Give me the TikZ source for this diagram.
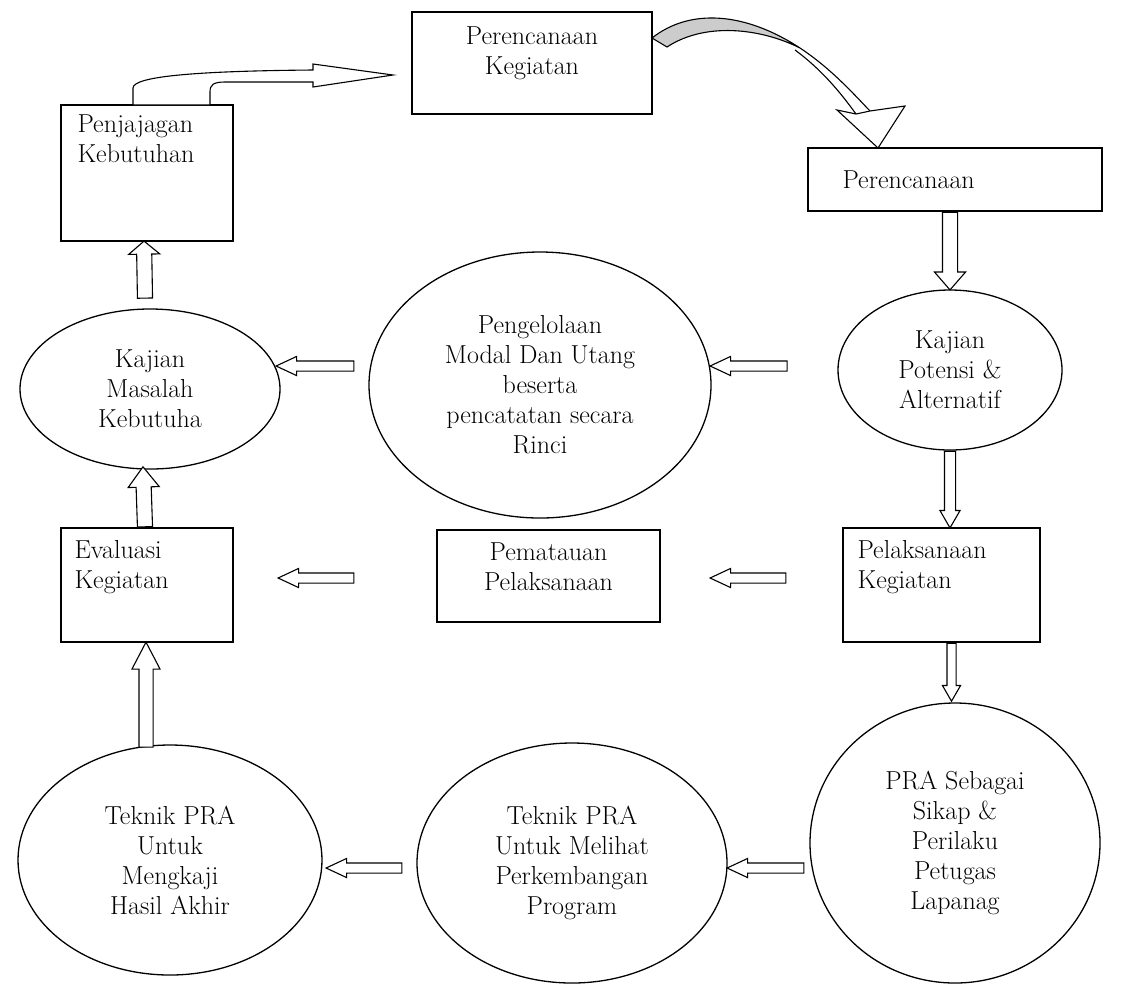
\documentclass[tikz,border=0pt]{standalone}
\usetikzlibrary{calc, positioning, shapes.geometric, shapes.arrows}

% hollow block arrow between two points
\newcommand\fatarrow[3][]{%
  \path let \p1=(#2), \p2=(#3),
    \n1={veclen(\x2-\x1,\y2-\y1)}, \n2={atan2(\y2-\y1,\x2-\x1)} in
    node[fat, minimum height=\n1, rotate=\n2, anchor=tail, #1] at (\p1) {};%
}

\begin{document}
\begin{tikzpicture}[
    x=1pt, y=-1pt,
    every node/.style={font=\fontsize{26}{30}\selectfont},
    box/.style={rectangle, draw, line width=1.3pt},
    oval/.style={ellipse, draw, line width=1.3pt, align=center, inner sep=0pt},
    txt/.style={inner sep=0pt},
    fat/.style={single arrow, draw, fill=white, line width=1.1pt, inner xsep=0pt, inner ysep=7pt,
        single arrow head extend=8pt, single arrow tip angle=75, single arrow head indent=0pt},
    fath/.style={inner ysep=4.5pt, single arrow head extend=4.5pt, single arrow tip angle=50},
    fatn/.style={inner ysep=4.5pt, single arrow head extend=4.5pt, single arrow tip angle=60}
]
    \useasboundingbox (0,0) rectangle (1123,997);

    % Boxes
    \node[box, minimum width=240pt, minimum height=102pt] (pkeg) at (532,63) {};
    \node[txt, align=center, below=15pt of pkeg.north] (pkegtxt) {Perencanaan\\Kegiatan};

    \node[box, minimum width=172pt, minimum height=136pt] (pj) at (147,173) {};
    \node[txt, align=left, below right=10pt and 17pt of pj.north west] (pjtxt) {Penjajagan\\Kebutuhan};

    \node[box, minimum width=294pt, minimum height=63pt] (pren) at (955,179.5) {};
    \node[txt, right=35pt of pren.west] (prentxt) {Perencanaan};

    \node[box, minimum width=172pt, minimum height=114pt] (ev) at (147,585) {};
    \node[txt, align=left, below right=13pt and 14pt of ev.north west] (evtxt) {Evaluasi\\Kegiatan};

    \node[box, minimum width=223pt, minimum height=92pt] (pem) at (548.5,576) {};
    \node[txt, align=center, below=13pt of pem.north] (pemtxt) {Pematauan\\Pelaksanaan};

    \node[box, minimum width=197pt, minimum height=114pt] (pel) at (941.5,585) {};
    \node[txt, align=left, below right=13pt and 15pt of pel.north west] (peltxt) {Pelaksanaan\\Kegiatan};

    % Ellipses
    \node[oval, minimum width=260pt, minimum height=160pt] (kmas) at (150,389) {Kajian\\Masalah\\Kebutuha};
    \node[oval, minimum width=342pt, minimum height=266pt] (peng) at (540,385) {Pengelolaan\\Modal Dan Utang\\beserta\\pencatatan secara\\Rinci};
    \node[oval, minimum width=224pt, minimum height=160pt] (kpot) at (950,370) {Kajian\\Potensi \&\\Alternatif};
    \node[oval, minimum width=290pt, minimum height=280pt] (pra) at (955,843) {PRA Sebagai\\Sikap \&\\Perilaku\\Petugas\\Lapanag};
    \node[oval, minimum width=310pt, minimum height=240pt] (tmid) at (572,863) {Teknik PRA\\Untuk Melihat\\Perkembangan\\Program};
    \node[oval, minimum width=304pt, minimum height=230pt] (tleft) at (170,860) {Teknik PRA\\Untuk\\Mengkaji\\Hasil Akhir};

    % Vertical block arrows
    \fatarrow[single arrow tip angle=100]{$(pj.south)+(-2,57)$}{$(pj.south)+(-3,0)$}
    \fatarrow{$(ev.north)+(-2,0)$}{$(ev.north)+(-4,-60)$}
    \fatarrow[inner ysep=6.5pt, single arrow head extend=7pt, single arrow tip angle=55]{$(ev.south)+(-1,105)$}{$(ev.south)+(-1,0)$}
    \fatarrow[single arrow tip angle=82]{kpot.north |- pren.south}{kpot.north}
    \fatarrow[fatn, inner ysep=5pt]{kpot.south}{kpot.south |- pel.north}
    \fatarrow[fatn, inner ysep=4pt]{$(pel.south)+(10,0)$}{$(pel.south)+(10,58)$}

    % Horizontal block arrows
    \fatarrow[fath]{$(peng.west)+(-14,-19)$}{$(kmas.east)+(-4,-23)$}
    \fatarrow[fath]{$(peng.east)+(76,-19)$}{$(peng.east)+(-1,-19)$}
    \fatarrow[fath]{$(pem.west)+(-82,2)$}{$(ev.east)+(45,-7)$}
    \fatarrow[fath]{$(pel.west)+(-56,-7)$}{$(pem.east)+(50,2)$}
    \fatarrow[fath]{$(tmid.west)+(-14,5)$}{$(tleft.east)+(4,8)$}
    \fatarrow[fath]{$(pra.west)+(-5,25)$}{$(tmid.east)+(0,5)$}

    % Curved arrow from Penjajagan to Perencanaan Kegiatan
    \draw[line width=1.1pt, fill=white] (133,105) -- (133,88)
        .. controls (133,76) and (200,71) .. (313,70) -- (313,64) -- (393,75)
        -- (313,87) -- (313,82) -- (225,82) .. controls (213,82) and (210,85) .. (210,92)
        -- (210,105) -- cycle;

    % Curved arrow from Perencanaan Kegiatan to Perencanaan
    \filldraw[line width=1.1pt, fill=gray!40] (652,38) .. controls (690,8) and (745,12) .. (800,48)
        .. controls (760,28) and (705,22) .. (667,47) -- cycle;
    \draw[line width=1.1pt] (800,48) .. controls (830,68) and (850,90) .. (870,111);
    \draw[line width=1.1pt] (795,50) .. controls (822,70) and (840,92) .. (856,114);
    \filldraw[line width=1.1pt, fill=white] (837,110) -- (856,114) -- (870,111) -- (905,106) -- (878,148) -- cycle;
\end{tikzpicture}
\end{document}
